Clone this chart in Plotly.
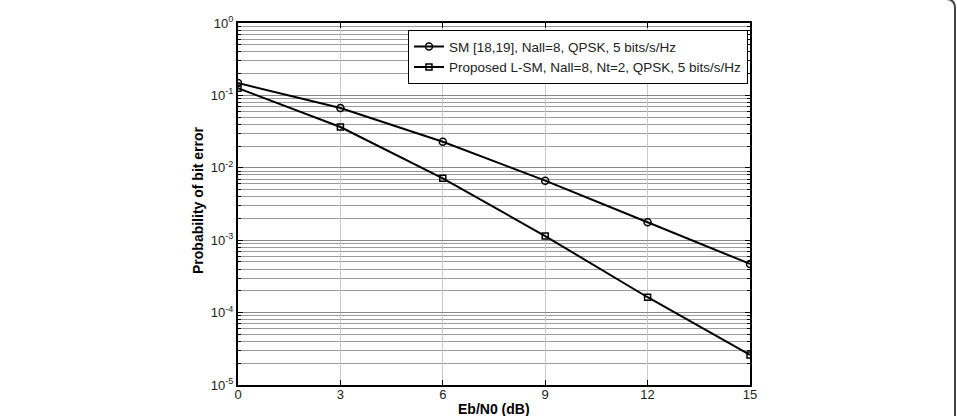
import plotly.graph_objects as go

snr_db = [0, 3, 6, 9, 12, 15]
ber_sm = [0.148, 0.067, 0.0229, 0.00664, 0.00177, 0.00047]
ber_lsm = [0.126, 0.0366, 0.00716, 0.00114, 0.000163, 0.000026]
name_sm = "SM [18,19], Nall=8, QPSK, 5 bits/s/Hz"
name_lsm = "Proposed L-SM, Nall=8, Nt=2, QPSK, 5 bits/s/Hz"
x_ticks = [0, 3, 6, 9, 12, 15]
y_exps = [-5, -4, -3, -2, -1, 0]
x_title = "Eb/N0 (dB)"
y_title = "Probability of bit error"

FONT = "Liberation Sans, Arial, Helvetica, sans-serif"

fig = go.Figure()
fig.add_trace(go.Scatter(
    x=snr_db, y=ber_sm, name=name_sm, mode="lines+markers",
    line=dict(color="black", width=2),
    marker=dict(symbol="circle-open", size=7, color="black", line=dict(width=1.5)),
))
fig.add_trace(go.Scatter(
    x=snr_db, y=ber_lsm, name=name_lsm, mode="lines+markers",
    line=dict(color="black", width=2),
    marker=dict(symbol="square-open", size=6, color="black", line=dict(width=1.5)),
))

minor_vals = [m * 10.0 ** e for e in y_exps[:-1] for m in range(2, 10)]

fig.update_layout(
    width=957, height=416,
    margin=dict(l=238, r=207, t=23, b=31),
    paper_bgcolor="white", plot_bgcolor="white",
    font=dict(family=FONT, size=13, color="black"),
    showlegend=True,
    legend=dict(
        x=0.332, y=0.98, xanchor="left", yanchor="top",
        bgcolor="white", bordercolor="black", borderwidth=1,
        font=dict(family=FONT, size=13.5, color="#222"),
        tracegroupgap=0, itemsizing="trace", itemwidth=30,
    ),
)
fig.update_xaxes(
    automargin=False,
    range=[0, 15], tickvals=x_ticks, ticktext=[str(v) for v in x_ticks],
    showgrid=True, gridcolor="#c8c8c8", gridwidth=1,
    showline=True, linecolor="black", linewidth=2, mirror="ticks",
    ticks="inside", ticklen=5, tickcolor="black", ticklabelstandoff=-4,
    zeroline=False, tickfont=dict(size=13, color="#222"),
)
fig.update_yaxes(
    automargin=False,
    type="log", range=[-5, 0],
    tickvals=[10.0 ** e for e in y_exps],
    ticktext=["10<sup>%d</sup>" % e for e in y_exps],
    showgrid=True, gridcolor="#8a8a8a", gridwidth=1,
    showline=True, linecolor="black", linewidth=2, mirror="ticks",
    ticks="inside", ticklen=5, tickcolor="black",
    zeroline=False, tickfont=dict(size=13, color="#222"),
    minor=dict(tickvals=minor_vals, showgrid=True, gridcolor="#9a9a9a",
               gridwidth=1, ticks="inside", ticklen=3, tickcolor="black"),
)

px = lambda v: (v - 238) / 512.0
py = lambda v: (385 - v) / 362.0

fig.add_annotation(text="<b>%s</b>" % x_title, xref="paper", yref="paper",
                   x=px(494), y=py(409), xanchor="center", yanchor="middle",
                   showarrow=False, font=dict(size=14, color="black"))
fig.add_annotation(text="<b>%s</b>" % y_title, xref="paper", yref="paper",
                   x=px(198), y=py(200), xanchor="center", yanchor="middle",
                   textangle=-90, showarrow=False, font=dict(size=14, color="black"))

# page frame on the right edge with rounded top corner
path = "M %f %f L %f %f Q %f %f %f %f" % (
    px(955), py(420), px(955), py(8), px(955), py(0), px(947), py(-1))
fig.add_shape(type="path", path=path, xref="paper", yref="paper",
              line=dict(color="#444", width=2))

fig.write_html("out.html")
